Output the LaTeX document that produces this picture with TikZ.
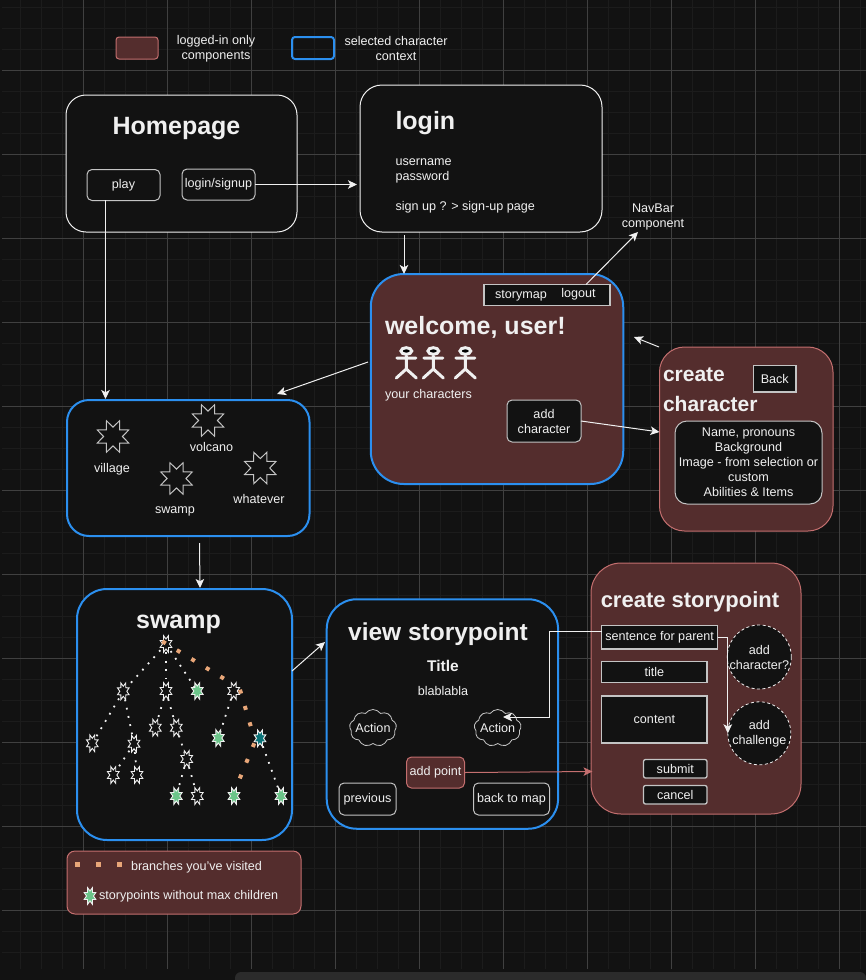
\documentclass[tikz,border=0pt]{standalone}
\usepackage{fontspec}
\setmainfont{Liberation Sans}
\usetikzlibrary{arrows.meta,shapes.geometric,shapes.symbols}
\definecolor{bgc}{HTML}{121212}
\definecolor{panelc}{HTML}{2B2B2B}
\definecolor{gridmaj}{HTML}{404040}
\definecolor{gridmin}{HTML}{1C1C1C}
\definecolor{fg}{HTML}{F0F0F0}
\definecolor{soft}{HTML}{C4C4C4}
\definecolor{redfill}{HTML}{542D2D}
\definecolor{redline}{HTML}{C46F6F}
\definecolor{bluec}{HTML}{2B8FEF}
\definecolor{orangec}{HTML}{E8A678}
\definecolor{greenc}{HTML}{6CC58A}
\definecolor{tealc}{HTML}{0B7378}
\tikzset{
  base/.style={inner sep=0pt,outer sep=0pt,text=fg,align=center,font=\fontsize{12.6}{15}\selectfont},
  txt/.style={base},
  ltxt/.style={base,anchor=west,align=left},
  big/.style={base,font=\bfseries\fontsize{25}{30}\selectfont},
  page/.style={base,draw=fg,line width=1pt,fill=bgc},
  ctx/.style={base,draw=bluec,line width=2pt,fill=bgc},
  ctxred/.style={base,draw=bluec,line width=2pt,fill=redfill},
  logged/.style={base,draw=redline,line width=1pt,fill=redfill},
  btn/.style={base,draw=soft,line width=1pt,fill=bgc,rounded corners=5pt},
  sqbtn/.style={base,draw=soft,line width=1.3pt,fill=bgc},
  ball/.style={base,circle,draw=fg,line width=.8pt,dash pattern=on 3pt off 2.5pt,fill=bgc,minimum size=63pt},
  bigstar/.style={star,star points=8,star point ratio=1.8,rotate=22.5,draw=soft,line width=1pt,fill=bgc,minimum size=34pt,inner sep=0pt,outer sep=0pt},
  treestar/.style={star,star points=8,star point ratio=1.8,draw=fg,line width=.9pt,fill=bgc,minimum size=18pt,inner sep=0pt,outer sep=0pt,xscale=.7,rotate=22.5},
  greenstar/.style={treestar,fill=greenc},
  tealstar/.style={treestar,fill=tealc},
  puff/.style={cloud,cloud puffs=9,cloud puff arc=110,aspect=1.3,draw=soft,line width=.8pt,fill=bgc,minimum width=47pt,minimum height=37pt,inner sep=0pt,outer sep=0pt},
  link/.style={draw=fg,line width=1pt,-{Stealth[length=9pt,width=8.5pt,inset=2.2pt]}},
  redlink/.style={draw=redline,line width=1pt,-{Stealth[length=9pt,width=8.5pt,inset=2.2pt]}},
  whitedots/.style={draw=fg,line width=1.8pt,dash pattern=on 1.8pt off 6.6pt},
  orangedots/.style={draw=orangec,line width=4pt,dash pattern=on 4pt off 13pt},
  legenddots/.style={draw=orangec,line width=5pt,dash pattern=on 5pt off 16pt},
  figure/.style={draw=fg,line width=3pt,line cap=round}
}
\newcommand{\stick}[1]{%
  \draw[figure,fill=black] (#1,351) ellipse[x radius=5.4pt,y radius=3.3pt];
  \draw[figure] (#1,356) -- (#1,369) (#1-9.5,358) -- (#1+9.5,358)
    (#1-10,378) -- (#1,369) -- (#1+10,378);
}
\begin{document}
\begin{tikzpicture}[x=1pt,y=-1pt]
\useasboundingbox (0,0) rectangle (866,980);
\fill[bgc] (0,0) rectangle (866,980);
% grid
\foreach \k in {0,...,41} {\draw[gridmin,line width=1.5pt] ({20.7+21*\k},0) -- ({20.7+21*\k},969);}
\foreach \k in {0,...,45} {\draw[gridmin,line width=1.5pt] (2,{7.7+21*\k}) -- (866,{7.7+21*\k});}
\foreach \k in {0,...,9} {\draw[gridmaj,line width=.8pt] ({83.7+84*\k},0) -- ({83.7+84*\k},969);}
\foreach \k in {0,...,10} {\draw[gridmaj,line width=.8pt] (2,{70.7+84*\k}) -- (866,{70.7+84*\k});}
\fill[panelc,rounded corners=6pt] (235,972) -- (866,972) -- (866,990) -- (235,990) -- cycle;

% legend on top
\node[logged,rounded corners=3pt,minimum width=42pt,minimum height=22pt] (legred) at (137,48) {};
\node[base,draw=bluec,line width=2pt,rounded corners=3pt,minimum width=42pt,minimum height=22pt] (legblue) at (313,48) {};
\node[txt] (legredt) at (216,48.5) {logged-in only\\components};
\node[txt] (legbluet) at (396,48.5) {selected character\\context};

% pages
\node[page,rounded corners=20pt,minimum width=231pt,minimum height=137pt] (home) at (181.5,163.5) {};
\node[big] (homet) at (176.5,129) {Homepage};
\node[btn,minimum width=73pt,minimum height=31pt] (play) at (123.5,185) {play};
\node[btn,minimum width=73pt,minimum height=31pt] (loginbtn) at (218.5,184.5) {login/signup};

\node[page,rounded corners=22pt,minimum width=242pt,minimum height=147pt] (login) at (481,158.5) {};
\node[big,anchor=west] (logint) at (395.5,123.5) {login};
\node[ltxt] (logintxt) at (395.5,186) {username\\password\\[15pt]sign up ? > sign-up page};

\node[txt] (navlabel) at (653,217) {NavBar\\component};

\node[ctxred,rounded corners=33pt,minimum width=252.5pt,minimum height=210pt] (welcome) at (497,379) {};
\node[sqbtn,minimum width=126pt,minimum height=21pt] (navbar) at (547,295) {};
\node[txt] (navstory) at (521,295.5) {storymap};
\node[txt] (navlogout) at (578.5,294.5) {logout};
\node[big,anchor=west] (welcomet) at (385,327.5) {welcome, user!};
\stick{406.3}\stick{433.3}\stick{465.3}
\node[ltxt] (yourchars) at (385,395.5) {your characters};
\node[btn,minimum width=74pt,minimum height=42pt] (addchar) at (544,421) {add\\character};

\node[logged,rounded corners=25pt,minimum width=173.5pt,minimum height=184pt] (createchar) at (746.25,439) {};
\node[base,anchor=west,align=left,font=\bfseries\fontsize{21}{30}\selectfont] (createchart) at (663,390) {create\\character};
\node[sqbtn,minimum width=42.5pt,minimum height=26.5pt] (backbtn) at (774.75,378.75) {Back};
\node[btn,rounded corners=12pt,minimum width=147pt,minimum height=83pt] (charform) at (748.5,462.5) {Name, pronouns\\Background\\Image - from selection or\\custom\\Abilities \& Items};

% map
\node[ctx,rounded corners=22pt,minimum width=242.5pt,minimum height=136pt] (map) at (188.25,468) {};
\node[bigstar] (village) at (113,436.5) {};
\node[bigstar] (volcano) at (208,420.5) {};
\node[bigstar] (swampstar) at (176.5,478.5) {};
\node[bigstar] (whatever) at (260.3,468) {};
\node[txt] (villaget) at (112,469) {village};
\node[txt] (volcanot) at (211.5,447) {volcano};
\node[txt] (swampt) at (175,511.5) {swamp};
\node[txt] (whatevert) at (259,499) {whatever};

% swamp
\node[ctx,rounded corners=30pt,minimum width=215pt,minimum height=251pt] (swamp) at (184.5,714.5) {};
\node[big] (swampti) at (178.5,624.5) {swamp};
\coordinate (r0) at (166,644);
\coordinate (c1) at (123.3,691.3);
\coordinate (c2) at (166,691);
\coordinate (c3) at (197.3,691);
\coordinate (c4) at (233.7,691);
\coordinate (c5) at (92.3,743.3);
\coordinate (c6) at (134,743.7);
\coordinate (c7) at (155.3,727.7);
\coordinate (c8) at (176.3,727.7);
\coordinate (c9) at (218.3,738);
\coordinate (c10) at (260,738.3);
\coordinate (c11) at (113.3,775);
\coordinate (c12) at (137,775);
\coordinate (c13) at (186.7,759);
\coordinate (c14) at (176.3,796);
\coordinate (c15) at (197.3,796);
\coordinate (c16) at (234,796);
\coordinate (c17) at (281,796);
\draw[whitedots] (r0) -- (c1);
\draw[whitedots] (r0) -- (c2);
\draw[whitedots] (r0) -- (c3);
\draw[whitedots] (c1) -- (c5);
\draw[whitedots] (c1) -- (c6);
\draw[whitedots] (c6) -- (c11);
\draw[whitedots] (c6) -- (c12);
\draw[whitedots] (c2) -- (c7);
\draw[whitedots] (c2) -- (c8);
\draw[whitedots] (c8) -- (c13);
\draw[whitedots] (c13) -- (c14);
\draw[whitedots] (c13) -- (c15);
\draw[whitedots] (c4) -- (c9);
\draw[whitedots] (c10) -- (c17);
\foreach \n/\st in {0/treestar,1/treestar,2/treestar,3/greenstar,4/treestar,5/treestar,6/treestar,7/treestar,8/treestar,9/greenstar,10/tealstar,11/treestar,12/treestar,13/treestar,14/greenstar,15/treestar,16/greenstar,17/greenstar}{
  \ifnum\n=0 \node[\st] (s\n) at (r0) {};\else \node[\st] (s\n) at (c\n) {};\fi
}
\coordinate (o1) at (162.3,641.3);
\coordinate (o2) at (234,684.7);
\coordinate (o3) at (240,689.7);
\coordinate (o4) at (254.3,738.3);
\coordinate (o5) at (254.3,743.3);
\coordinate (o6) at (235,790);
\draw[orangedots] (o1) -- (o2);
\draw[orangedots] (o3) -- (o4);
\draw[orangedots] (o5) -- (o6);

\node[logged,rounded corners=8pt,minimum width=234pt,minimum height=63pt] (key) at (184,882.5) {};
\coordinate (ka) at (75.2,864.3);
\coordinate (kb) at (125,864.3);
\draw[legenddots] (ka) -- (kb);
\node[ltxt] (kvisited) at (131,867.5) {branches you've visited};
\node[greenstar] (kstar) at (90,896) {};
\node[ltxt] (kwithout) at (99,896.5) {storypoints without max children};

% view storypoint
\node[ctx,rounded corners=30pt,minimum width=231.4pt,minimum height=229.5pt] (view) at (442.4,714) {};
\node[big,font=\bfseries\fontsize{24.5}{30}\selectfont] (viewt) at (438,634.5) {view storypoint};
\node[base,font=\bfseries\fontsize{15.5}{18}\selectfont] (titlet) at (443,666) {Title};
\node[txt] (blab) at (443,690.5) {blablabla};
\node[puff,label={[txt]center:Action}] (act1) at (373,728) {};
\node[puff,label={[txt]center:Action}] (act2) at (497.7,728) {};
\node[logged,rounded corners=5pt,minimum width=58pt,minimum height=31pt] (addpoint) at (435.5,772.5) {add point};
\node[btn,minimum width=57pt,minimum height=32pt] (prev) at (367.5,799) {previous};
\node[btn,minimum width=76pt,minimum height=32pt] (backmap) at (511.5,799) {back to map};

% create storypoint
\node[logged,rounded corners=30pt,minimum width=210pt,minimum height=251pt] (createsp) at (696,688.5) {};
\node[base,font=\bfseries\fontsize{22}{26}\selectfont] (createspt) at (690,601.5) {create storypoint};
\node[sqbtn,minimum width=116pt,minimum height=23.3pt] (sentence) at (659.7,637.3) {sentence for parent};
\node[sqbtn,minimum width=105.3pt,minimum height=21pt] (titlebox) at (654.35,672) {title};
\node[sqbtn,minimum width=105.3pt,minimum height=47pt] (contentbox) at (654.35,719.5) {content};
\node[sqbtn,rounded corners=2pt,minimum width=63.5pt,minimum height=18.5pt] (submit) at (675.25,768.75) {submit};
\node[sqbtn,rounded corners=2pt,minimum width=63.5pt,minimum height=18.5pt] (cancel) at (675.25,794.75) {cancel};
\node[ball] (addc) at (759.3,657) {add\\character?};
\node[ball] (addch) at (759.3,733.3) {add\\challenge};

% connectors
\coordinate (a1) at (105.5,200);
\coordinate (a2) at (105.5,399);
\coordinate (b1) at (404,235);
\coordinate (b2) at (404,274);
\coordinate (nav1) at (586,284.5);
\coordinate (nav2) at (638,232);
\coordinate (w1) at (368,362);
\coordinate (w2) at (277,394);
\coordinate (cc1) at (659,347);
\coordinate (cc2) at (634,337);
\coordinate (m1) at (199.5,543);
\coordinate (m2) at (200,588);
\coordinate (sw1) at (292,671);
\coordinate (sw2) at (325,642);
\coordinate (e1) at (549,631);
\coordinate (e2) at (549,717);
\coordinate (e3) at (503,717);
\coordinate (e4) at (592.5,771.5);
\draw[link] (loginbtn.east) -- ([xshift=-3pt]login.west |- loginbtn.east);
\draw[link] (a1) -- (a2);
\draw[link] (b1) -- (b2);
\draw[link] (nav1) -- (nav2);
\draw[link] (w1) -- (w2);
\draw[link] (cc1) -- (cc2);
\draw[link] (addchar.east) -- ([yshift=7pt]createchar.west);
\draw[link] (m1) -- (m2);
\draw[link] (sw1) -- (sw2);
\draw[redlink] (addpoint.east) -- (e4);
\draw[link] ([yshift=6.3pt]sentence.west) -- (e1) -- (e2) -- (e3);
\draw[link] (sentence.east) -| (addch.west);
\end{tikzpicture}
\end{document}
